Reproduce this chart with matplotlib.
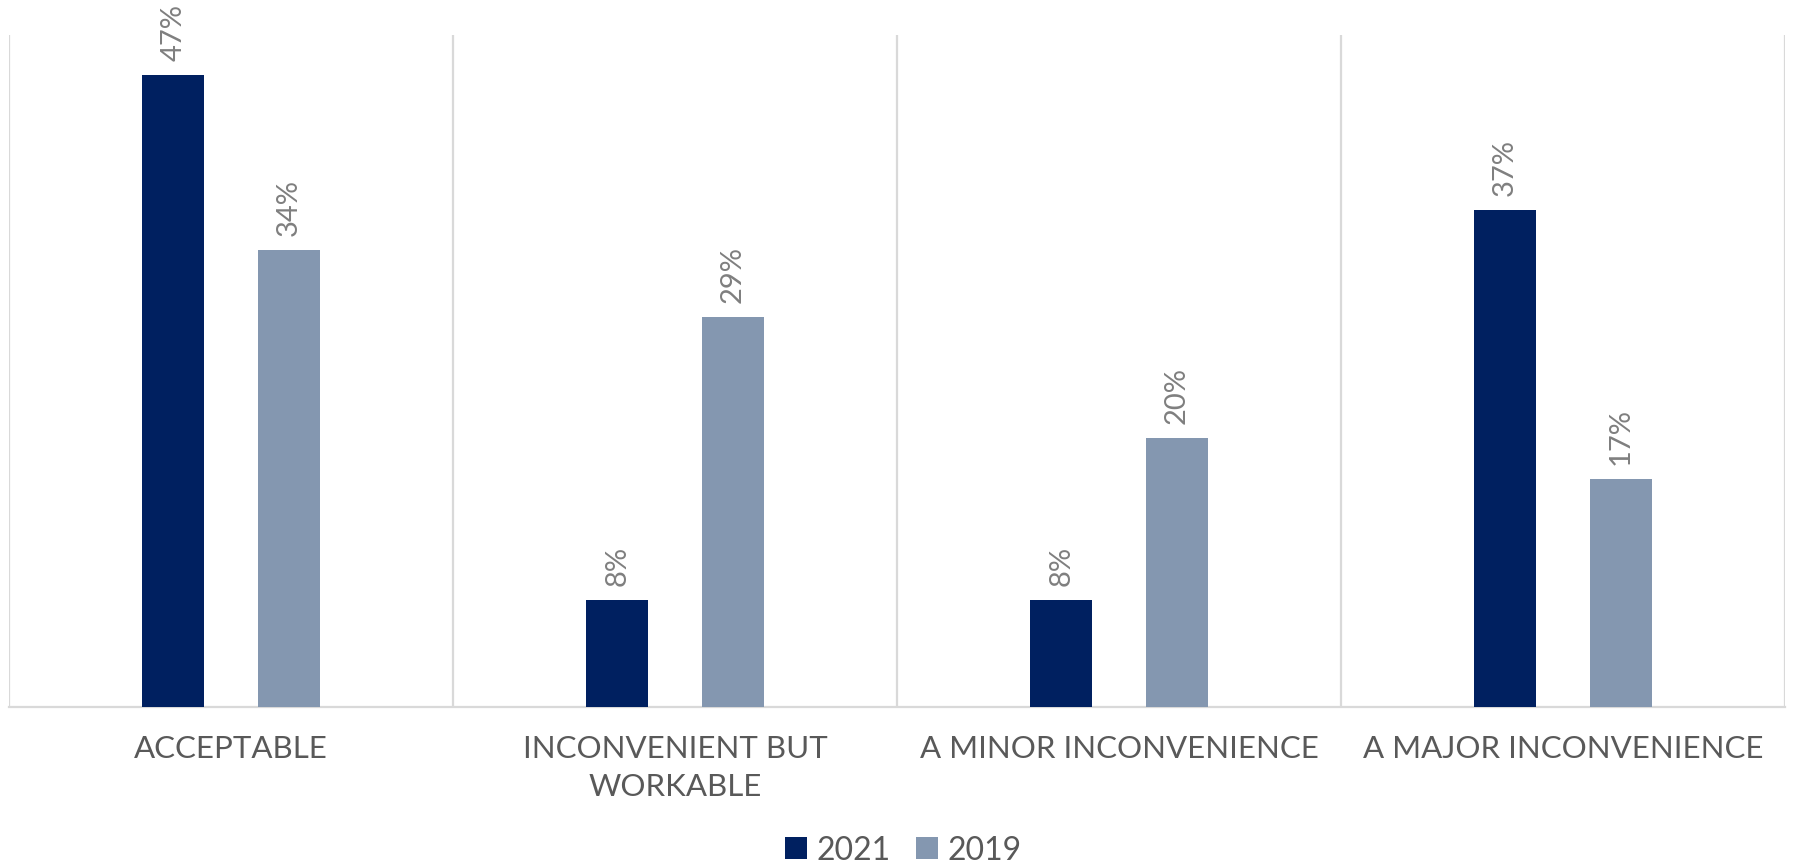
import matplotlib.pyplot as plt
import numpy as np

# Survey answers for the two years
categories = ["ACCEPTABLE", "INCONVENIENT BUT\nWORKABLE",
              "A MINOR INCONVENIENCE", "A MAJOR INCONVENIENCE"]
pct_2021 = [47, 8, 8, 37]
pct_2019 = [34, 29, 20, 17]

navy = "#002060"
steel = "#8497B0"
grid_grey = "#D9D9D9"
label_grey = "#7F7F7F"
text_grey = "#595959"

plt.rcParams['font.family'] = ['Lato', 'DejaVu Sans']

fig = plt.figure(figsize=(17.93, 8.67), dpi=100)
ax = fig.add_axes([0.005, 0.1845, 0.9905, 0.7751])

x = np.arange(len(categories))
w = 0.14
off = 0.13

bars21 = ax.bar(x - off, pct_2021, w, color=navy, label="2021", zorder=3)
bars19 = ax.bar(x + off, pct_2019, w, color=steel, label="2019", zorder=3)

# rotated value labels above each bar
for bars, vals in ((bars21, pct_2021), (bars19, pct_2019)):
    for b, v in zip(bars, vals):
        ax.annotate(f"{v}%", (b.get_x() + b.get_width() / 2, v),
                    xytext=(0, 10), textcoords="offset points",
                    rotation=90, ha="center", va="bottom",
                    fontsize=21, color=label_grey)

# category dividers
for sep in np.arange(-0.5, len(categories), 1.0):
    ax.axvline(sep, color=grid_grey, lw=1.6, zorder=1)

ax.set_xlim(-0.5, len(categories) - 0.5)
ax.set_ylim(0, 50)
ax.set_yticks([])
ax.set_xticks(x)
ax.set_xticklabels(categories, fontsize=22.5, color=text_grey, linespacing=1.45)
ax.tick_params(axis="x", length=0, pad=20)

for side in ("top", "left", "right"):
    ax.spines[side].set_visible(False)
ax.spines["bottom"].set_color(grid_grey)
ax.spines["bottom"].set_linewidth(1.6)

leg = fig.legend(loc="center", bbox_to_anchor=(0.504, 0.019), ncol=2,
                 frameon=False, fontsize=23, handlelength=0.68,
                 handleheight=0.68, handletextpad=0.3, columnspacing=0.8)
for t in leg.get_texts():
    t.set_color(text_grey)

fig.savefig("out.png", dpi=100)
